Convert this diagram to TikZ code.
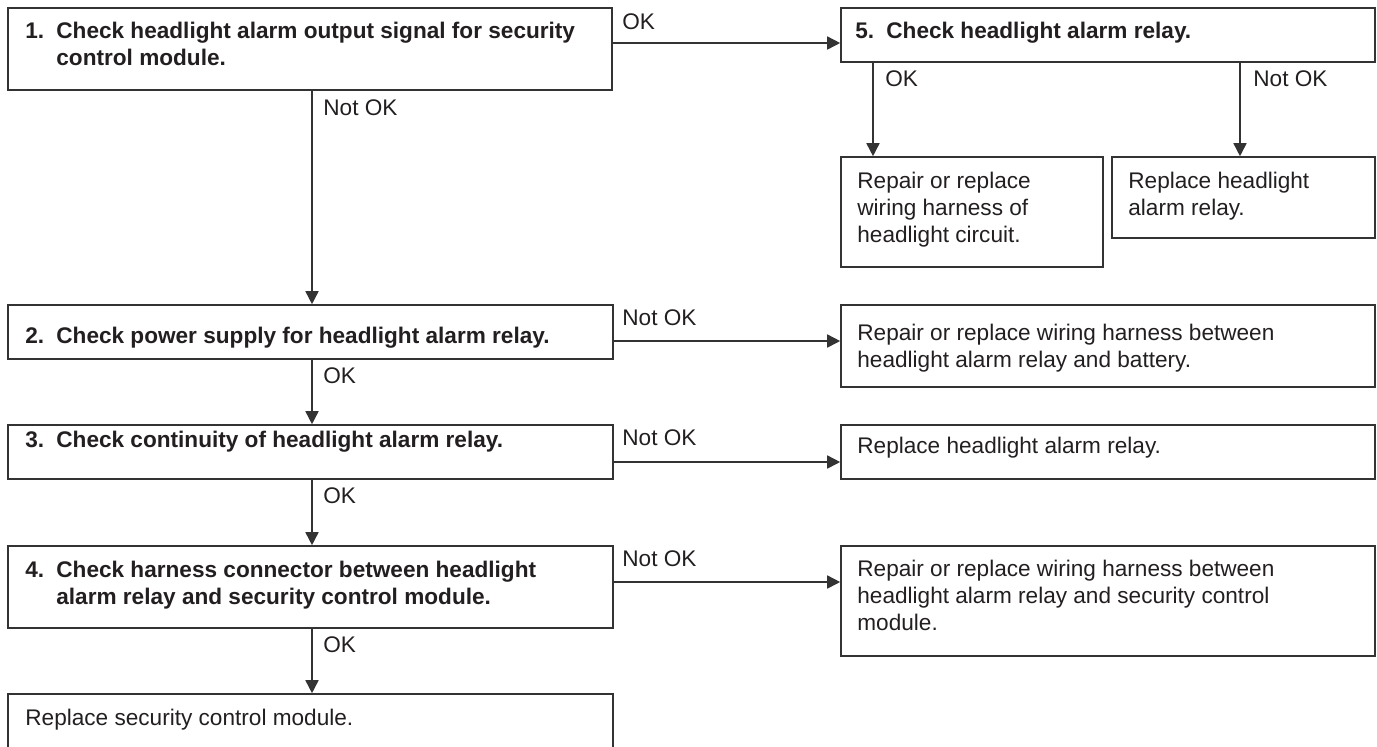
\documentclass[tikz,border=0pt]{standalone}
\usepackage{fontspec}
\setmainfont{Liberation Sans}
\usetikzlibrary{fit,arrows.meta}
\definecolor{ink}{HTML}{231F20}
\definecolor{edge}{HTML}{333333}
\newcommand{\tl}[1]{\begin{tabular}[t]{@{}l@{}}#1\end{tabular}}
\begin{document}
\begin{tikzpicture}[x=0.5pt,y=-0.5pt,
  box/.style={draw=edge, line width=0.8pt, inner sep=0pt},
  txt/.style={anchor=base west, inner sep=0pt, text=ink, font=\fontsize{11.3}{13.5}\selectfont},
  bold/.style={txt, font=\fontsize{11.3}{13.5}\selectfont\bfseries},
  arr/.style={draw=edge, line width=0.8pt, -{Triangle[length=6.5pt,width=6.5pt]}}]
\clip (0,0) rectangle (1377,746);
\path[use as bounding box] (0,0) rectangle (1377,746);

% boxes
\node[box, fit={(8,8) (612,90)}] (b1) {};
\node[box, fit={(841,8) (1375,62)}] (b5) {};
\node[box, fit={(841,157) (1103,267)}] (rc) {};
\node[box, fit={(1112,157) (1375,238)}] (rr) {};
\node[box, fit={(8,305) (613,359)}] (b2) {};
\node[box, fit={(841,305) (1375,387)}] (r2) {};
\node[box, fit={(8,425) (613,479)}] (b3) {};
\node[box, fit={(841,425) (1375,479)}] (r3) {};
\node[box, fit={(8,546) (613,628)}] (b4) {};
\node[box, fit={(841,546) (1375,656)}] (r4) {};
\node[box, fit={(8,694) (613,780)}] (fin) {};

% texts
\node[bold] (n1) at (25,38) {1.};
\node[bold] (t1) at (56,38) {\tl{Check headlight alarm output signal for security\\control module.}};
\node[bold] (n5) at (855,38) {5.};
\node[bold] (t5) at (886,38) {Check headlight alarm relay.};
\node[txt] (trc) at (857,188) {\tl{Repair or replace\\wiring harness of\\headlight circuit.}};
\node[txt] (trr) at (1128,188) {\tl{Replace headlight\\alarm relay.}};
\node[bold] (n2) at (25,343) {2.};
\node[bold] (t2) at (56,343) {Check power supply for headlight alarm relay.};
\node[txt] (tr2) at (857,340) {\tl{Repair or replace wiring harness between\\headlight alarm relay and battery.}};
\node[bold] (n3) at (25,447) {3.};
\node[bold] (t3) at (56,447) {Check continuity of headlight alarm relay.};
\node[txt] (tr3) at (857,453) {Replace headlight alarm relay.};
\node[bold] (n4) at (25,577) {4.};
\node[bold] (t4) at (56,577) {\tl{Check harness connector between headlight\\alarm relay and security control module.}};
\node[txt] (tr4) at (857,576) {\tl{Repair or replace wiring harness between\\headlight alarm relay and security control\\module.}};
\node[txt] (tfin) at (25,725) {Replace security control module.};

% connector labels
\node[txt] (l15) at (622,29) {OK};
\node[txt] (l12) at (323,115) {Not OK};
\node[txt] (l5a) at (885,86) {OK};
\node[txt] (l5b) at (1253,86) {Not OK};
\node[txt] (l2r) at (622,325) {Not OK};
\node[txt] (l23) at (323,383) {OK};
\node[txt] (l3r) at (622,445) {Not OK};
\node[txt] (l34) at (323,503) {OK};
\node[txt] (l4r) at (622,566) {Not OK};
\node[txt] (l4f) at (323,652) {OK};

% connectors
\draw[arr] (b1.east |- 0,43) -- (b5.west |- 0,43);
\draw[arr] (b5.south -| 873,0) -- (rc.north -| 873,0);
\draw[arr] (b5.south -| 1240,0) -- (rr.north -| 1240,0);
\draw[arr] (b1.south -| 312,0) -- (b2.north -| 312,0);
\draw[arr] (b2.east |- 0,341) -- (r2.west |- 0,341);
\draw[arr] (b2.south -| 312,0) -- (b3.north -| 312,0);
\draw[arr] (b3.east |- 0,462) -- (r3.west |- 0,462);
\draw[arr] (b3.south -| 312,0) -- (b4.north -| 312,0);
\draw[arr] (b4.east |- 0,582) -- (r4.west |- 0,582);
\draw[arr] (b4.south -| 312,0) -- (fin.north -| 312,0);
\end{tikzpicture}
\end{document}
